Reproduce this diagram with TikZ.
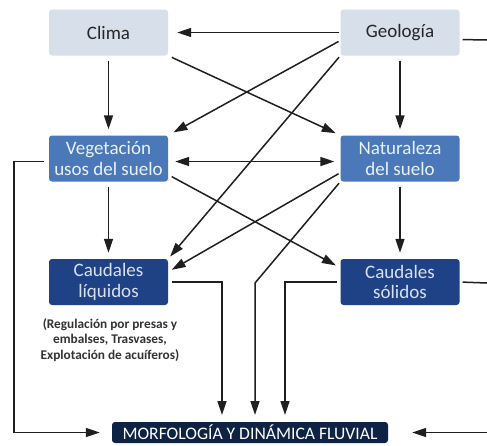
\documentclass[tikz,border=0pt]{standalone}
\usepackage{fontspec}
\setmainfont{Carlito}
\usetikzlibrary{arrows.meta,calc}
\definecolor{lightbox}{HTML}{D6DFEA}
\definecolor{midbox}{HTML}{4A78B8}
\definecolor{darkbox}{HTML}{1F4286}
\definecolor{navybox}{HTML}{0E2244}
\definecolor{midtext}{HTML}{EAF0F8}
\definecolor{darktext}{HTML}{D8E0EC}
\definecolor{notetext}{HTML}{333333}
\begin{document}
\begin{tikzpicture}[x=1pt,y=-1pt,
  basebox/.style={rectangle, rounded corners=3pt, minimum width=119pt, minimum height=46pt,
    align=center, inner sep=0pt, font=\fontsize{19}{20.5}\selectfont},
  lbox/.style={basebox, fill=lightbox, text=black!85},
  mbox/.style={basebox, fill=midbox, text=midtext},
  dbox/.style={basebox, fill=darkbox, text=darktext},
  fbox/.style={rectangle, rounded corners=3pt, minimum width=276pt, minimum height=21pt,
    inner sep=0pt, fill=navybox, text=white, font=\fontsize{17.6}{20}\selectfont},
  note/.style={align=center, text=notetext, font=\fontsize{13.3}{15.5}\selectfont\bfseries},
  wire/.style={line width=1.5pt, draw=black!88},
  arr/.style={wire, -{Triangle[length=14pt,width=9pt]}},
  darr/.style={wire, {Triangle[length=14pt,width=9pt]}-{Triangle[length=14pt,width=9pt]}}
]
\useasboundingbox (0,0) rectangle (487,445);
\fill[white] (0,0) rectangle (487,445);

\node[lbox] (clima) at (108.5,32.5) {Clima};
\node[lbox] (geo) at (400,32.5) {Geología};
\node[mbox] (veg) at (108.5,158.5) {Vegetación\\usos del suelo};
\node[mbox] (nat) at (400,158.5) {Naturaleza\\del suelo};
\node[dbox] (cl) at (108.5,282) {Caudales\\líquidos};
\node[dbox] (cs) at (400,282) {Caudales\\sólidos};
\node[fbox] (morf) at (250,432.5) {MORFOLOGÍA Y DINÁMICA FLUVIAL};
\node[note] (nota) at (110,340) {(Regulación por presas y\\embalses, Trasvases,\\Explotación de acuíferos)};

\coordinate (b1) at (255,283);
\coordinate (c1) at (222,422);
\coordinate (c2) at (255,422);
\coordinate (c3) at (285,422);
\coordinate (lft) at (14,432.5);
\coordinate (rgt) at (487,432.5);
\coordinate (geoR) at (487,40);
\coordinate (csR) at (487,283);

% top row
\draw[arr, shorten >=9pt, shorten <=1pt] (geo.west) -- (clima.east);
\draw[arr, shorten <=5pt, shorten >=6pt] (clima.south) -- (veg.north);
\draw[arr, shorten <=5pt, shorten >=6pt] (geo.south) -- (nat.north);
\draw[arr, shorten <=4pt, shorten >=5pt] (clima.south east) -- (nat.north west);
\draw[arr, shorten <=2pt, shorten >=6pt] ($(geo.west)+(0,8)$) -- (veg.north east);
\draw[arr, shorten <=2pt, shorten >=3pt] (geo.south west) -- (cl.north east);
\draw[wire, shorten <=3pt] ($(geo.east)+(0,7)$) -- (geoR);

% middle row
\draw[darr, shorten <=7pt, shorten >=6pt] ($(veg.east)+(0,3)$) -- ($(nat.west)+(0,3)$);
\draw[arr, shorten <=4pt, shorten >=5pt] ($(veg.south east)+(0,-7)$) -- ($(cs.north west)+(0,9)$);
\draw[arr, shorten <=2pt, shorten >=4pt] ($(nat.south west)+(0,-9)$) -- ($(cl.north east)+(0,13)$);
\draw[arr, shorten <=5pt, shorten >=6pt] (veg.south) -- (cl.north);
\draw[arr, shorten <=5pt, shorten >=6pt] (nat.south) -- (cs.north);
\draw[wire, shorten <=5pt] ($(veg.west)+(0,3)$) -| (lft);
\draw[arr, shorten >=12pt] (lft) -- (morf.west);

% bottom row
\draw[arr, shorten <=2pt, shorten >=7pt] (nat.south west) -- (b1) -- (c2);
\draw[arr, shorten <=4pt, shorten >=7pt] (cl.east) -| (c1);
\draw[arr, shorten <=3pt, shorten >=7pt] (cs.west) -| (c3);
\draw[wire, shorten <=3pt] (cs.east) -- (csR);
\draw[arr, shorten >=24pt] (rgt) -- (morf.east);
\end{tikzpicture}
\end{document}
